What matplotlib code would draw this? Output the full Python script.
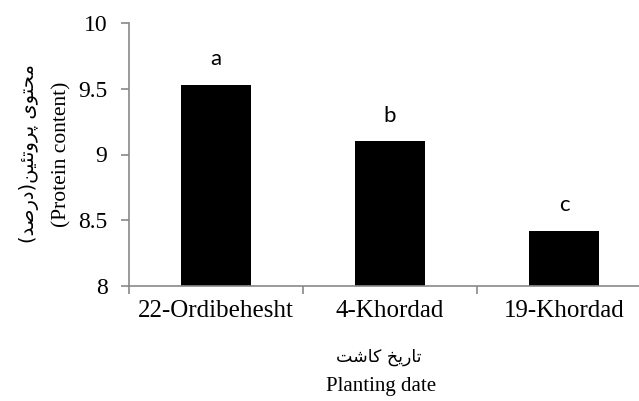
import numpy as np
import matplotlib.pyplot as plt

dates = ['22-Ordibehesht', '4-Khordad', '19-Khordad']
protein = [9.53, 9.10, 8.42]
letters = ['a', 'b', 'c']
yticks = [8, 8.5, 9, 9.5, 10]
ytick_labels = ['8', '8.5', '9', '9.5', '10']

# Persian labels written in visual (left-to-right) order with presentation forms
fa_xlabel = '\uFE96\uFEB7\uFE8E\uFB90 \uFEA6\uFBFE\uFEAD\uFE8E\uFE97'
fa_ylabel = ('(\uFEAA\uFEBB\uFEAD\uFEA9)'
             '\uFEE6\uFBFF\uFE8C\uFE97\uFEED\uFEAE\uFB58 '
             '\uFBFC\uFEEE\uFE98\uFEA4\uFEE3')

W, H = 639, 401
fig = plt.figure(figsize=(W / 100, H / 100), dpi=100)
ax = fig.add_axes([129 / W, (H - 286) / H, 522 / W, 263 / H])

x = np.arange(len(dates))
ax.bar(x, protein, width=0.4, color='black', zorder=2)
for xi, v, s in zip(x, protein, letters):
    ax.text(xi, v + 0.12, s, ha='center', va='bottom', fontsize=16,
            family='Lato', color='black')

ax.set_xlim(-0.5, len(dates) - 0.5)
ax.set_ylim(8, 10)

axis_color = '#898989'
for side in ['top', 'right']:
    ax.spines[side].set_visible(False)
for side in ['left', 'bottom']:
    ax.spines[side].set_color(axis_color)
    ax.spines[side].set_linewidth(1.2)

ax.set_yticks(yticks)
ax.set_yticklabels(ytick_labels, family='Liberation Serif', fontsize=17)
ax.tick_params(axis='y', direction='out', length=5.5, width=1.2,
               color=axis_color, pad=10)

# category boundaries carry the tick marks, centres carry the labels
ax.set_xticks(np.arange(len(dates) + 1) - 0.5)
ax.set_xticklabels([])
ax.set_xticks(x, minor=True)
ax.set_xticklabels(dates, minor=True, family='Liberation Serif', fontsize=18)
ax.tick_params(axis='x', which='major', direction='out', length=6,
               width=1.2, color=axis_color)
ax.tick_params(axis='x', which='minor', length=0, pad=10)

fig.text(379 / W, 1 - 357 / H, fa_xlabel, ha='center', va='center',
         family='DejaVu Sans', fontsize=12.5)
fig.text(381 / W, 1 - 387 / H, 'Planting date', ha='center', va='center',
         family='Liberation Serif', fontsize=15)
fig.text(29 / W, 1 - 154 / H, fa_ylabel, ha='center', va='center',
         rotation=90, family='DejaVu Sans', fontsize=14)
fig.text(62 / W, 1 - 154 / H, '(Protein content)', ha='center',
         va='center', rotation=90, family='Liberation Serif', fontsize=15.5)

fig.savefig('out.png', dpi=100)
